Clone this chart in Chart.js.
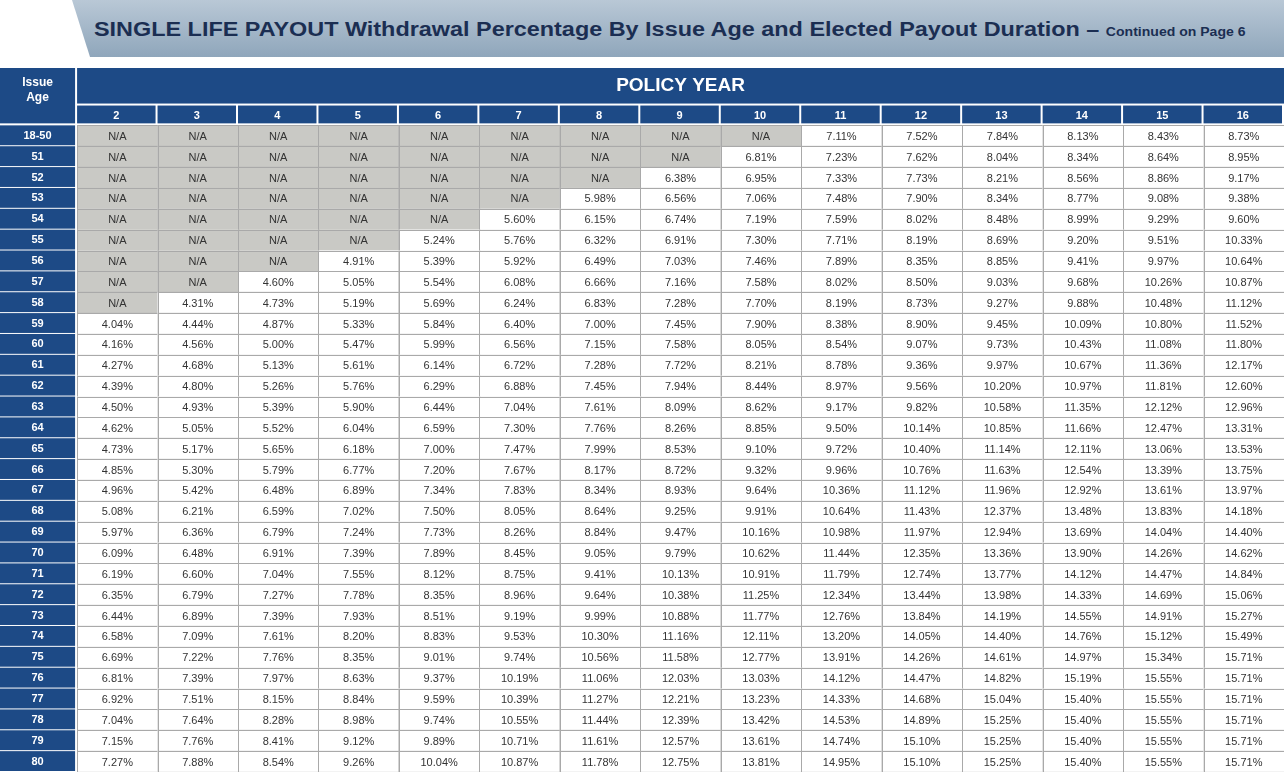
<!DOCTYPE html>
<html>
<head>
<meta charset="utf-8">
<script src="https://cdn.jsdelivr.net/npm/chart.js@4"></script>
<style>
  body { margin: 0; background: #fff; font-family: "Liberation Sans", Arial, sans-serif; }
  #banner {
    position: absolute; left: 72px; top: 0; width: 1212px; height: 57px;
    background: linear-gradient(to bottom, #b9c8d6, #8fa6bb);
    clip-path: polygon(0 0, 100% 0, 100% 100%, 18px 100%);
  }
  #title {
    position: absolute; left: 94px; top: 18px; color: #1b2e52;
    font-weight: bold; font-size: 20px; white-space: nowrap;
    transform: scaleX(1.17); transform-origin: left center;
  }
  #title small { font-size: 12px; }
  #wrap { position: absolute; left: 0; top: 68px; }
</style>
</head>
<body>
<div id="banner"></div>
<div id="title">SINGLE LIFE PAYOUT Withdrawal Percentage By Issue Age and Elected Payout Duration &ndash; <small>Continued on Page 6</small></div>
<div id="wrap"><canvas id="myChart" width="1284" height="704"></canvas></div>
<script>
const years = ["2","3","4","5","6","7","8","9","10","11","12","13","14","15","16"];
const ages = ["18-50","51","52","53","54","55","56","57","58","59","60","61","62","63","64","65",
              "66","67","68","69","70","71","72","73","74","75","76","77","78","79","80"];
const N = null;
// one row per issue age, null = N/A
const rows = [
  [N,N,N,N,N,N,N,N,N,7.11,7.52,7.84,8.13,8.43,8.73],
  [N,N,N,N,N,N,N,N,6.81,7.23,7.62,8.04,8.34,8.64,8.95],
  [N,N,N,N,N,N,N,6.38,6.95,7.33,7.73,8.21,8.56,8.86,9.17],
  [N,N,N,N,N,N,5.98,6.56,7.06,7.48,7.90,8.34,8.77,9.08,9.38],
  [N,N,N,N,N,5.60,6.15,6.74,7.19,7.59,8.02,8.48,8.99,9.29,9.60],
  [N,N,N,N,5.24,5.76,6.32,6.91,7.30,7.71,8.19,8.69,9.20,9.51,10.33],
  [N,N,N,4.91,5.39,5.92,6.49,7.03,7.46,7.89,8.35,8.85,9.41,9.97,10.64],
  [N,N,4.60,5.05,5.54,6.08,6.66,7.16,7.58,8.02,8.50,9.03,9.68,10.26,10.87],
  [N,4.31,4.73,5.19,5.69,6.24,6.83,7.28,7.70,8.19,8.73,9.27,9.88,10.48,11.12],
  [4.04,4.44,4.87,5.33,5.84,6.40,7.00,7.45,7.90,8.38,8.90,9.45,10.09,10.80,11.52],
  [4.16,4.56,5.00,5.47,5.99,6.56,7.15,7.58,8.05,8.54,9.07,9.73,10.43,11.08,11.80],
  [4.27,4.68,5.13,5.61,6.14,6.72,7.28,7.72,8.21,8.78,9.36,9.97,10.67,11.36,12.17],
  [4.39,4.80,5.26,5.76,6.29,6.88,7.45,7.94,8.44,8.97,9.56,10.20,10.97,11.81,12.60],
  [4.50,4.93,5.39,5.90,6.44,7.04,7.61,8.09,8.62,9.17,9.82,10.58,11.35,12.12,12.96],
  [4.62,5.05,5.52,6.04,6.59,7.30,7.76,8.26,8.85,9.50,10.14,10.85,11.66,12.47,13.31],
  [4.73,5.17,5.65,6.18,7.00,7.47,7.99,8.53,9.10,9.72,10.40,11.14,12.11,13.06,13.53],
  [4.85,5.30,5.79,6.77,7.20,7.67,8.17,8.72,9.32,9.96,10.76,11.63,12.54,13.39,13.75],
  [4.96,5.42,6.48,6.89,7.34,7.83,8.34,8.93,9.64,10.36,11.12,11.96,12.92,13.61,13.97],
  [5.08,6.21,6.59,7.02,7.50,8.05,8.64,9.25,9.91,10.64,11.43,12.37,13.48,13.83,14.18],
  [5.97,6.36,6.79,7.24,7.73,8.26,8.84,9.47,10.16,10.98,11.97,12.94,13.69,14.04,14.40],
  [6.09,6.48,6.91,7.39,7.89,8.45,9.05,9.79,10.62,11.44,12.35,13.36,13.90,14.26,14.62],
  [6.19,6.60,7.04,7.55,8.12,8.75,9.41,10.13,10.91,11.79,12.74,13.77,14.12,14.47,14.84],
  [6.35,6.79,7.27,7.78,8.35,8.96,9.64,10.38,11.25,12.34,13.44,13.98,14.33,14.69,15.06],
  [6.44,6.89,7.39,7.93,8.51,9.19,9.99,10.88,11.77,12.76,13.84,14.19,14.55,14.91,15.27],
  [6.58,7.09,7.61,8.20,8.83,9.53,10.30,11.16,12.11,13.20,14.05,14.40,14.76,15.12,15.49],
  [6.69,7.22,7.76,8.35,9.01,9.74,10.56,11.58,12.77,13.91,14.26,14.61,14.97,15.34,15.71],
  [6.81,7.39,7.97,8.63,9.37,10.19,11.06,12.03,13.03,14.12,14.47,14.82,15.19,15.55,15.71],
  [6.92,7.51,8.15,8.84,9.59,10.39,11.27,12.21,13.23,14.33,14.68,15.04,15.40,15.55,15.71],
  [7.04,7.64,8.28,8.98,9.74,10.55,11.44,12.39,13.42,14.53,14.89,15.25,15.40,15.55,15.71],
  [7.15,7.76,8.41,9.12,9.89,10.71,11.61,12.57,13.61,14.74,15.10,15.25,15.40,15.55,15.71],
  [7.27,7.88,8.54,9.26,10.04,10.87,11.78,12.75,13.81,14.95,15.10,15.25,15.40,15.55,15.71]
];

const NAVY = "#1d4a86";
const GRAY = "#c9c9c5";
const LINE = "#a9a9a9";

// one point per cell, at the cell centre
let points = [];
for (let r = 0; r < rows.length; r++)
    for (let c = 0; c < years.length; c++)
        points.push({x: c + 0.5, y: r + 0.5, v: rows[r][c]});

const tablePlugin = {
    id: "table",
    afterDatasetsDraw(chart)
    {
        const ctx = chart.ctx;
        const xs = chart.scales.x, ys = chart.scales.y;
        const px = v => xs.getPixelForValue(v);
        const py = v => ys.getPixelForValue(v);
        ctx.save();
        ctx.textAlign = "center";
        ctx.textBaseline = "middle";

        // header: Issue Age
        ctx.fillStyle = NAVY;
        ctx.fillRect(px(-0.958), py(-2.75), px(0) - px(-0.958) - 2, py(0) - py(-2.75) - 2);
        ctx.fillStyle = "#fff";
        ctx.font = "bold 12px 'Liberation Sans', Arial";
        ctx.fillText("Issue", (px(-0.958) + px(0)) / 2 - 1, py(-2.05));
        ctx.fillText("Age", (px(-0.958) + px(0)) / 2 - 1, py(-1.35));

        // header: POLICY YEAR
        ctx.fillStyle = NAVY;
        ctx.fillRect(px(0), py(-2.75), px(15) - px(0), py(-0.95) - py(-2.75) - 2);
        ctx.fillStyle = "#fff";
        ctx.font = "bold 19px 'Liberation Sans', Arial";
        ctx.fillText("POLICY YEAR", (px(0) + px(15)) / 2, py(-1.9));

        // year numbers
        ctx.font = "bold 11px 'Liberation Sans', Arial";
        for (let c = 0; c < years.length; c++)
        {
            ctx.fillStyle = NAVY;
            ctx.fillRect(px(c), py(-0.95), px(c + 1) - px(c) - 2, py(0) - py(-0.95) - 2);
            ctx.fillStyle = "#fff";
            ctx.fillText(years[c], (px(c) + px(c + 1)) / 2 - 1, py(-0.45));
        }

        // age column
        for (let r = 0; r < ages.length; r++)
        {
            ctx.fillStyle = NAVY;
            ctx.fillRect(px(-0.958), py(r), px(0) - px(-0.958) - 2, py(r + 1) - py(r) - 1);
            ctx.fillStyle = "#fff";
            ctx.fillText(ages[r], (px(-0.958) + px(0)) / 2 - 1, py(r + 0.5));
        }

        // value cells from the dataset elements
        const meta = chart.getDatasetMeta(0);
        const w = px(1) - px(0), h = py(1) - py(0);
        ctx.font = "11px 'Liberation Sans', Arial";
        ctx.lineWidth = 1;
        meta.data.forEach((el, i) =>
        {
            const v = points[i].v;
            const x0 = el.x - w / 2, y0 = el.y - h / 2;
            ctx.fillStyle = v === null ? GRAY : "#fff";
            ctx.fillRect(x0, y0, w, h);
            ctx.strokeStyle = LINE;
            ctx.strokeRect(Math.round(x0) + 0.5, Math.round(y0) + 0.5, w, h);
            ctx.fillStyle = "#333";
            ctx.fillText(v === null ? "N/A" : v.toFixed(2) + "%", el.x, el.y + 1);
        });
        ctx.restore();
    }
};

var chart = new Chart(document.getElementById("myChart"), {
    type: "scatter",
    data: { datasets: [{ data: points, pointRadius: 0, pointHoverRadius: 0 }] },
    options: {
        responsive: false,
        animation: false,
        events: [],
        layout: { padding: 0 },
        plugins: { legend: { display: false }, tooltip: { enabled: false } },
        scales: {
            x: { type: "linear", min: -0.958, max: 15, display: false },
            y: { type: "linear", min: -2.75, max: 31, reverse: true, display: false }
        }
    },
    plugins: [tablePlugin]
});
</script>
</body>
</html>
